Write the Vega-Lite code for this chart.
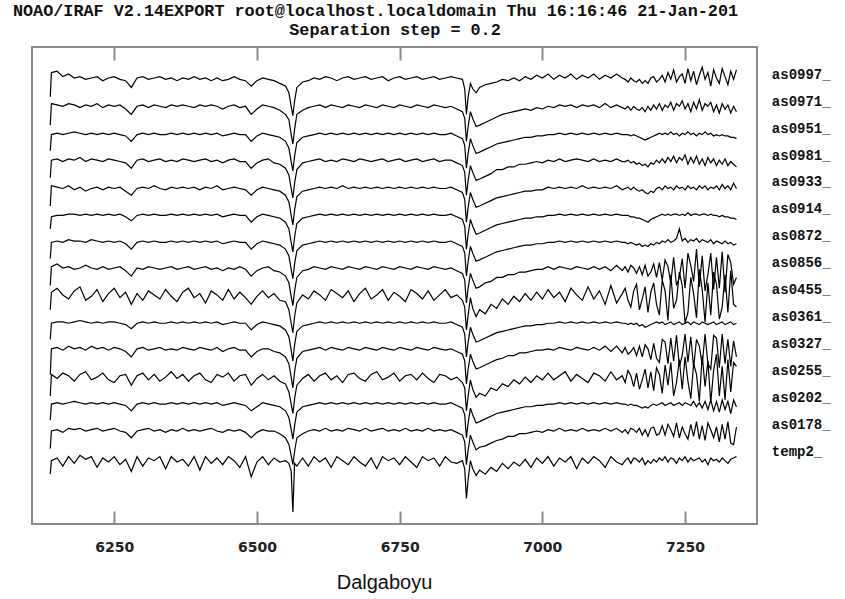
{
"$schema": "https://vega.github.io/schema/vega-lite/v6.json",
"width": 725, "height": 477,
"autosize": {"type": "none"},
"padding": {"left": 32, "top": 47, "right": 88, "bottom": 75},
"background": "white",
"config": {"view": {"stroke": "#8a8a8a", "strokeWidth": 2}, "axis": {"grid": false}},
"title": {"text": "NOAO/IRAF V2.14EXPORT root@localhost.localdomain Thu 16:16:46 21-Jan-201", "dx": -19, "font": "Liberation Mono", "fontSize": 16.8, "fontWeight": "bold", "color": "#111", "offset": 1.5, "anchor": "middle"},
"datasets": {
"spec": [
{"w":6138,"a":0.88,"b":1.07,"c":1.28,"d":1.46,"e":1.62,"f":1.88,"g":2.10,"h":2.28,"i":2.48,"j":2.70,"k":2.87,"l":3.08,"m":3.28,"n":3.47,"o":3.68},
{"w":6140,"a":0.98,"b":1.20,"c":1.40,"d":1.62,"e":1.81,"f":2.00,"g":2.23,"h":2.42,"i":2.60,"j":2.79,"k":3.02,"l":3.21,"m":3.40,"n":3.63,"o":3.86},
{"w":6150,"a":1.00,"b":1.21,"c":1.41,"d":1.59,"e":1.82,"f":2.01,"g":2.26,"h":2.44,"i":2.61,"j":2.80,"k":3.01,"l":3.22,"m":3.41,"n":3.62,"o":3.87},
{"w":6160,"a":0.94,"b":1.19,"c":1.40,"d":1.63,"e":1.80,"f":2.01,"g":2.21,"h":2.41,"i":2.60,"j":2.80,"k":3.00,"l":3.20,"m":3.40,"n":3.61,"o":3.83},
{"w":6170,"a":1.01,"b":1.22,"c":1.41,"d":1.61,"e":1.83,"f":2.00,"g":2.18,"h":2.42,"i":2.62,"j":2.81,"k":3.02,"l":3.22,"m":3.41,"n":3.63,"o":3.85},
{"w":6180,"a":0.96,"b":1.21,"c":1.42,"d":1.57,"e":1.81,"f":2.01,"g":2.24,"h":2.40,"i":2.61,"j":2.81,"k":2.99,"l":3.21,"m":3.42,"n":3.62,"o":3.82},
{"w":6190,"a":1.02,"b":1.22,"c":1.41,"d":1.62,"e":1.82,"f":2.02,"g":2.27,"h":2.41,"i":2.61,"j":2.80,"k":3.01,"l":3.23,"m":3.41,"n":3.60,"o":3.83},
{"w":6200,"a":0.99,"b":1.20,"c":1.40,"d":1.64,"e":1.80,"f":2.01,"g":2.17,"h":2.43,"i":2.60,"j":2.81,"k":2.98,"l":3.20,"m":3.40,"n":3.62,"o":3.81},
{"w":6210,"a":1.01,"b":1.21,"c":1.41,"d":1.58,"e":1.83,"f":2.00,"g":2.20,"h":2.41,"i":2.62,"j":2.80,"k":3.00,"l":3.22,"m":3.41,"n":3.61,"o":3.82},
{"w":6220,"a":0.93,"b":1.22,"c":1.40,"d":1.60,"e":1.81,"f":2.01,"g":2.25,"h":2.40,"i":2.61,"j":2.81,"k":3.01,"l":3.21,"m":3.40,"n":3.63,"o":3.83},
{"w":6230,"a":1.00,"b":1.20,"c":1.41,"d":1.63,"e":1.82,"f":2.00,"g":2.16,"h":2.42,"i":2.60,"j":2.80,"k":2.99,"l":3.20,"m":3.41,"n":3.60,"o":3.80},
{"w":6240,"a":0.97,"b":1.21,"c":1.40,"d":1.58,"e":1.80,"f":2.01,"g":2.22,"h":2.40,"i":2.61,"j":2.81,"k":3.01,"l":3.22,"m":3.40,"n":3.62,"o":3.82},
{"w":6250,"a":1.01,"b":1.22,"c":1.41,"d":1.56,"e":1.82,"f":2.01,"g":2.26,"h":2.41,"i":2.60,"j":2.80,"k":3.00,"l":3.21,"m":3.41,"n":3.61,"o":3.83},
{"w":6260,"a":0.95,"b":1.20,"c":1.40,"d":1.61,"e":1.81,"f":2.00,"g":2.19,"h":2.42,"i":2.61,"j":2.81,"k":3.01,"l":3.20,"m":3.40,"n":3.62,"o":3.81},
{"w":6270,"a":0.99,"b":1.19,"c":1.39,"d":1.62,"e":1.79,"f":1.99,"g":2.23,"h":2.39,"i":2.59,"j":2.79,"k":2.98,"l":3.19,"m":3.39,"n":3.59,"o":3.80},
{"w":6280,"a":0.90,"b":1.15,"c":1.35,"d":1.54,"e":1.75,"f":1.96,"g":2.14,"h":2.35,"i":2.55,"j":2.76,"k":2.95,"l":3.15,"m":3.35,"n":3.55,"o":3.75},
{"w":6290,"a":1.01,"b":1.20,"c":1.40,"d":1.61,"e":1.81,"f":2.00,"g":2.22,"h":2.41,"i":2.60,"j":2.80,"k":3.00,"l":3.21,"m":3.40,"n":3.61,"o":3.82},
{"w":6300,"a":0.94,"b":1.21,"c":1.41,"d":1.63,"e":1.82,"f":2.01,"g":2.17,"h":2.40,"i":2.61,"j":2.81,"k":3.01,"l":3.22,"m":3.41,"n":3.62,"o":3.83},
{"w":6310,"a":1.00,"b":1.22,"c":1.40,"d":1.58,"e":1.80,"f":2.00,"g":2.24,"h":2.42,"i":2.60,"j":2.80,"k":3.00,"l":3.20,"m":3.40,"n":3.60,"o":3.81},
{"w":6320,"a":0.98,"b":1.20,"c":1.41,"d":1.62,"e":1.81,"f":2.01,"g":2.21,"h":2.41,"i":2.61,"j":2.81,"k":3.02,"l":3.21,"m":3.41,"n":3.62,"o":3.82},
{"w":6330,"a":1.01,"b":1.21,"c":1.40,"d":1.57,"e":1.82,"f":2.00,"g":2.18,"h":2.40,"i":2.60,"j":2.80,"k":3.00,"l":3.22,"m":3.40,"n":3.61,"o":3.83},
{"w":6340,"a":0.92,"b":1.19,"c":1.40,"d":1.60,"e":1.80,"f":2.00,"g":2.25,"h":2.41,"i":2.60,"j":2.80,"k":2.99,"l":3.20,"m":3.40,"n":3.60,"o":3.81},
{"w":6350,"a":1.01,"b":1.21,"c":1.41,"d":1.64,"e":1.81,"f":2.01,"g":2.20,"h":2.42,"i":2.61,"j":2.81,"k":3.01,"l":3.21,"m":3.41,"n":3.62,"o":3.82},
{"w":6360,"a":0.97,"b":1.20,"c":1.40,"d":1.59,"e":1.80,"f":2.00,"g":2.16,"h":2.40,"i":2.60,"j":2.80,"k":3.00,"l":3.20,"m":3.40,"n":3.61,"o":3.80},
{"w":6370,"a":0.99,"b":1.22,"c":1.41,"d":1.62,"e":1.82,"f":2.01,"g":2.23,"h":2.41,"i":2.61,"j":2.81,"k":3.01,"l":3.22,"m":3.41,"n":3.62,"o":3.82},
{"w":6380,"a":0.94,"b":1.20,"c":1.40,"d":1.57,"e":1.81,"f":2.00,"g":2.26,"h":2.42,"i":2.60,"j":2.80,"k":3.00,"l":3.21,"m":3.40,"n":3.61,"o":3.81},
{"w":6390,"a":1.01,"b":1.21,"c":1.41,"d":1.61,"e":1.80,"f":2.01,"g":2.19,"h":2.40,"i":2.61,"j":2.81,"k":3.01,"l":3.20,"m":3.41,"n":3.60,"o":3.83},
{"w":6400,"a":0.91,"b":1.20,"c":1.40,"d":1.63,"e":1.82,"f":2.00,"g":2.22,"h":2.41,"i":2.60,"j":2.80,"k":2.99,"l":3.21,"m":3.40,"n":3.62,"o":3.81},
{"w":6410,"a":1.01,"b":1.21,"c":1.41,"d":1.58,"e":1.81,"f":2.01,"g":2.15,"h":2.42,"i":2.61,"j":2.81,"k":3.01,"l":3.22,"m":3.41,"n":3.61,"o":3.82},
{"w":6420,"a":0.96,"b":1.22,"c":1.40,"d":1.56,"e":1.80,"f":2.00,"g":2.24,"h":2.40,"i":2.60,"j":2.80,"k":3.00,"l":3.20,"m":3.40,"n":3.62,"o":3.80},
{"w":6430,"a":1.00,"b":1.20,"c":1.41,"d":1.62,"e":1.82,"f":2.01,"g":2.21,"h":2.41,"i":2.61,"j":2.81,"k":3.02,"l":3.21,"m":3.41,"n":3.61,"o":3.82},
{"w":6440,"a":0.95,"b":1.19,"c":1.39,"d":1.60,"e":1.79,"f":1.99,"g":2.17,"h":2.39,"i":2.59,"j":2.79,"k":2.99,"l":3.19,"m":3.39,"n":3.59,"o":3.80},
{"w":6450,"a":1.01,"b":1.21,"c":1.40,"d":1.63,"e":1.81,"f":2.00,"g":2.25,"h":2.41,"i":2.60,"j":2.80,"k":3.00,"l":3.21,"m":3.40,"n":3.61,"o":3.81},
{"w":6460,"a":0.98,"b":1.20,"c":1.41,"d":1.57,"e":1.82,"f":2.01,"g":2.18,"h":2.40,"i":2.61,"j":2.81,"k":3.01,"l":3.22,"m":3.41,"n":3.62,"o":3.83},
{"w":6470,"a":0.93,"b":1.21,"c":1.40,"d":1.61,"e":1.80,"f":2.00,"g":2.23,"h":2.42,"i":2.60,"j":2.80,"k":3.00,"l":3.20,"m":3.40,"n":3.60,"o":3.81},
{"w":6480,"a":1.01,"b":1.19,"c":1.39,"d":1.62,"e":1.80,"f":2.00,"g":2.19,"h":2.40,"i":2.60,"j":2.80,"k":2.99,"l":3.20,"m":3.40,"n":3.61,"o":3.80},
{"w":6490,"a":0.86,"b":1.15,"c":1.35,"d":1.54,"e":1.75,"f":1.95,"g":2.14,"h":2.35,"i":2.55,"j":2.75,"k":2.95,"l":3.15,"m":3.35,"n":3.55,"o":3.76},
{"w":6500,"a":0.97,"b":1.19,"c":1.38,"d":1.59,"e":1.79,"f":1.99,"g":2.20,"h":2.39,"i":2.59,"j":2.79,"k":2.99,"l":3.19,"m":3.39,"n":3.59,"o":3.80},
{"w":6510,"a":1.01,"b":1.21,"c":1.41,"d":1.62,"e":1.81,"f":2.01,"g":2.24,"h":2.41,"i":2.61,"j":2.81,"k":3.01,"l":3.21,"m":3.41,"n":3.62,"o":3.82},
{"w":6520,"a":0.95,"b":1.20,"c":1.40,"d":1.58,"e":1.81,"f":2.00,"g":2.19,"h":2.42,"i":2.60,"j":2.80,"k":3.00,"l":3.22,"m":3.40,"n":3.61,"o":3.81},
{"w":6530,"a":1.00,"b":1.20,"c":1.39,"d":1.61,"e":1.79,"f":1.99,"g":2.22,"h":2.39,"i":2.59,"j":2.79,"k":2.99,"l":3.19,"m":3.39,"n":3.60,"o":3.80},
{"w":6540,"a":0.97,"b":1.18,"c":1.38,"d":1.57,"e":1.78,"f":1.98,"g":2.17,"h":2.38,"i":2.58,"j":2.78,"k":2.98,"l":3.18,"m":3.38,"n":3.58,"o":3.78},
{"w":6550,"a":0.98,"b":1.15,"c":1.35,"d":1.55,"e":1.75,"f":1.95,"g":2.16,"h":2.35,"i":2.55,"j":2.75,"k":2.95,"l":3.15,"m":3.35,"n":3.55,"o":3.76},
{"w":6556,"a":0.96,"b":1.10,"c":1.30,"d":1.49,"e":1.70,"f":1.90,"g":2.10,"h":2.30,"i":2.50,"j":2.70,"k":2.90,"l":3.10,"m":3.30,"n":3.51,"o":3.71},
{"w":6560,"a":0.90,"b":1.02,"c":1.21,"d":1.40,"e":1.60,"f":1.80,"g":2.00,"h":2.20,"i":2.40,"j":2.60,"k":2.80,"l":3.00,"m":3.20,"n":3.40,"o":3.61},
{"w":6563,"a":0.60,"b":0.95,"c":1.14,"d":1.33,"e":1.52,"f":1.72,"g":1.93,"h":2.13,"i":2.33,"j":2.53,"k":2.73,"l":2.93,"m":3.13,"n":3.33,"o":3.54},
{"w":6566,"a":0.96,"b":1.05,"c":1.24,"d":1.44,"e":1.64,"f":1.84,"g":2.05,"h":2.24,"i":2.44,"j":2.64,"k":2.84,"l":3.04,"m":3.24,"n":3.44,"o":3.65},
{"w":6570,"a":0.94,"b":1.15,"c":1.34,"d":1.54,"e":1.74,"f":1.94,"g":2.15,"h":2.34,"i":2.54,"j":2.74,"k":2.94,"l":3.14,"m":3.34,"n":3.55,"o":3.75},
{"w":6580,"a":1.00,"b":1.18,"c":1.38,"d":1.59,"e":1.79,"f":1.98,"g":2.21,"h":2.39,"i":2.58,"j":2.78,"k":2.98,"l":3.19,"m":3.38,"n":3.58,"o":3.79},
{"w":6590,"a":0.94,"b":1.20,"c":1.39,"d":1.62,"e":1.80,"f":1.99,"g":2.18,"h":2.40,"i":2.59,"j":2.79,"k":2.99,"l":3.20,"m":3.39,"n":3.60,"o":3.80},
{"w":6600,"a":1.01,"b":1.21,"c":1.40,"d":1.57,"e":1.81,"f":2.00,"g":2.24,"h":2.42,"i":2.60,"j":2.80,"k":3.00,"l":3.21,"m":3.40,"n":3.61,"o":3.82},
{"w":6610,"a":0.97,"b":1.20,"c":1.41,"d":1.61,"e":1.82,"f":2.01,"g":2.21,"h":2.41,"i":2.61,"j":2.81,"k":3.01,"l":3.22,"m":3.41,"n":3.62,"o":3.81},
{"w":6620,"a":1.00,"b":1.22,"c":1.40,"d":1.63,"e":1.80,"f":2.00,"g":2.17,"h":2.40,"i":2.60,"j":2.80,"k":3.00,"l":3.20,"m":3.40,"n":3.60,"o":3.83},
{"w":6630,"a":0.93,"b":1.20,"c":1.41,"d":1.58,"e":1.82,"f":2.01,"g":2.25,"h":2.42,"i":2.61,"j":2.81,"k":3.01,"l":3.21,"m":3.41,"n":3.62,"o":3.82},
{"w":6640,"a":1.01,"b":1.21,"c":1.40,"d":1.61,"e":1.81,"f":2.00,"g":2.22,"h":2.41,"i":2.60,"j":2.80,"k":3.00,"l":3.20,"m":3.40,"n":3.61,"o":3.80},
{"w":6650,"a":0.98,"b":1.20,"c":1.41,"d":1.56,"e":1.80,"f":2.01,"g":2.19,"h":2.40,"i":2.61,"j":2.81,"k":3.02,"l":3.22,"m":3.41,"n":3.60,"o":3.82},
{"w":6660,"a":0.95,"b":1.22,"c":1.40,"d":1.62,"e":1.82,"f":2.00,"g":2.24,"h":2.42,"i":2.60,"j":2.80,"k":3.00,"l":3.21,"m":3.40,"n":3.62,"o":3.83},
{"w":6670,"a":1.01,"b":1.21,"c":1.41,"d":1.63,"e":1.81,"f":2.01,"g":2.16,"h":2.41,"i":2.61,"j":2.81,"k":3.01,"l":3.20,"m":3.41,"n":3.61,"o":3.81},
{"w":6680,"a":0.97,"b":1.20,"c":1.40,"d":1.59,"e":1.80,"f":2.00,"g":2.22,"h":2.40,"i":2.60,"j":2.80,"k":3.00,"l":3.22,"m":3.40,"n":3.60,"o":3.82},
{"w":6690,"a":0.94,"b":1.22,"c":1.41,"d":1.57,"e":1.82,"f":2.01,"g":2.26,"h":2.42,"i":2.61,"j":2.81,"k":3.01,"l":3.21,"m":3.41,"n":3.62,"o":3.83},
{"w":6700,"a":1.00,"b":1.20,"c":1.40,"d":1.62,"e":1.81,"f":2.00,"g":2.18,"h":2.41,"i":2.60,"j":2.80,"k":3.00,"l":3.20,"m":3.40,"n":3.61,"o":3.81},
{"w":6710,"a":0.92,"b":1.21,"c":1.41,"d":1.64,"e":1.80,"f":2.01,"g":2.21,"h":2.40,"i":2.61,"j":2.81,"k":3.01,"l":3.21,"m":3.41,"n":3.60,"o":3.82},
{"w":6720,"a":1.01,"b":1.22,"c":1.40,"d":1.58,"e":1.82,"f":2.00,"g":2.25,"h":2.42,"i":2.60,"j":2.80,"k":3.00,"l":3.22,"m":3.40,"n":3.62,"o":3.83},
{"w":6730,"a":0.98,"b":1.20,"c":1.41,"d":1.60,"e":1.81,"f":2.01,"g":2.17,"h":2.41,"i":2.61,"j":2.81,"k":3.01,"l":3.20,"m":3.41,"n":3.61,"o":3.80},
{"w":6740,"a":1.00,"b":1.21,"c":1.40,"d":1.63,"e":1.80,"f":2.00,"g":2.23,"h":2.40,"i":2.60,"j":2.80,"k":3.00,"l":3.21,"m":3.40,"n":3.60,"o":3.82},
{"w":6750,"a":0.95,"b":1.20,"c":1.41,"d":1.57,"e":1.82,"f":2.01,"g":2.20,"h":2.42,"i":2.61,"j":2.81,"k":3.01,"l":3.22,"m":3.41,"n":3.62,"o":3.83},
{"w":6760,"a":1.01,"b":1.22,"c":1.40,"d":1.61,"e":1.81,"f":2.00,"g":2.16,"h":2.41,"i":2.60,"j":2.80,"k":3.00,"l":3.20,"m":3.40,"n":3.61,"o":3.81},
{"w":6770,"a":0.97,"b":1.20,"c":1.41,"d":1.62,"e":1.80,"f":2.01,"g":2.25,"h":2.40,"i":2.61,"j":2.81,"k":3.01,"l":3.21,"m":3.41,"n":3.60,"o":3.82},
{"w":6780,"a":0.93,"b":1.21,"c":1.40,"d":1.58,"e":1.82,"f":2.00,"g":2.22,"h":2.42,"i":2.60,"j":2.80,"k":3.00,"l":3.22,"m":3.40,"n":3.62,"o":3.83},
{"w":6790,"a":1.01,"b":1.20,"c":1.41,"d":1.63,"e":1.81,"f":2.01,"g":2.18,"h":2.41,"i":2.61,"j":2.81,"k":3.01,"l":3.20,"m":3.41,"n":3.61,"o":3.81},
{"w":6800,"a":0.98,"b":1.22,"c":1.40,"d":1.59,"e":1.80,"f":2.00,"g":2.24,"h":2.40,"i":2.60,"j":2.80,"k":3.00,"l":3.21,"m":3.40,"n":3.60,"o":3.82},
{"w":6810,"a":1.00,"b":1.20,"c":1.41,"d":1.56,"e":1.82,"f":2.01,"g":2.17,"h":2.42,"i":2.61,"j":2.81,"k":3.01,"l":3.22,"m":3.41,"n":3.62,"o":3.83},
{"w":6820,"a":0.94,"b":1.21,"c":1.40,"d":1.62,"e":1.81,"f":2.00,"g":2.21,"h":2.41,"i":2.60,"j":2.80,"k":3.00,"l":3.20,"m":3.40,"n":3.61,"o":3.81},
{"w":6830,"a":1.01,"b":1.20,"c":1.40,"d":1.61,"e":1.80,"f":2.00,"g":2.25,"h":2.40,"i":2.60,"j":2.80,"k":3.00,"l":3.21,"m":3.40,"n":3.60,"o":3.82},
{"w":6840,"a":0.97,"b":1.21,"c":1.41,"d":1.58,"e":1.81,"f":2.01,"g":2.19,"h":2.41,"i":2.61,"j":2.81,"k":3.01,"l":3.21,"m":3.41,"n":3.61,"o":3.83},
{"w":6850,"a":0.96,"b":1.19,"c":1.39,"d":1.60,"e":1.79,"f":1.99,"g":2.21,"h":2.39,"i":2.59,"j":2.79,"k":2.99,"l":3.19,"m":3.39,"n":3.59,"o":3.82},
{"w":6860,"a":0.98,"b":1.17,"c":1.37,"d":1.56,"e":1.77,"f":1.97,"g":2.17,"h":2.37,"i":2.57,"j":2.77,"k":2.97,"l":3.17,"m":3.37,"n":3.57,"o":3.81},
{"w":6864,"a":0.92,"b":1.12,"c":1.32,"d":1.52,"e":1.72,"f":1.92,"g":2.12,"h":2.32,"i":2.52,"j":2.72,"k":2.92,"l":3.12,"m":3.32,"n":3.52,"o":3.74},
{"w":6867,"a":0.70,"b":0.95,"c":1.15,"d":1.35,"e":1.55,"f":1.75,"g":1.95,"h":2.15,"i":2.35,"j":2.55,"k":2.75,"l":2.95,"m":3.15,"n":3.35,"o":3.55},
{"w":6870,"a":0.84,"b":1.06,"c":1.26,"d":1.46,"e":1.66,"f":1.86,"g":2.06,"h":2.26,"i":2.46,"j":2.66,"k":2.86,"l":3.06,"m":3.26,"n":3.46,"o":3.68},
{"w":6874,"a":0.98,"b":1.17,"c":1.37,"d":1.58,"e":1.77,"f":1.97,"g":2.19,"h":2.37,"i":2.57,"j":2.77,"k":2.97,"l":3.17,"m":3.37,"n":3.57,"o":3.78},
{"w":6878,"a":0.92,"b":1.12,"c":1.32,"d":1.51,"e":1.72,"f":1.92,"g":2.11,"h":2.32,"i":2.52,"j":2.72,"k":2.92,"l":3.12,"m":3.32,"n":3.52,"o":3.74},
{"w":6884,"a":0.87,"b":1.06,"c":1.26,"d":1.45,"e":1.66,"f":1.86,"g":2.05,"h":2.26,"i":2.46,"j":2.66,"k":2.86,"l":3.06,"m":3.26,"n":3.46,"o":3.71},
{"w":6890,"a":0.91,"b":1.08,"c":1.27,"d":1.48,"e":1.67,"f":1.87,"g":2.10,"h":2.27,"i":2.47,"j":2.67,"k":2.87,"l":3.07,"m":3.27,"n":3.47,"o":3.75},
{"w":6900,"a":0.88,"b":1.09,"c":1.29,"d":1.46,"e":1.69,"f":1.89,"g":2.07,"h":2.30,"i":2.49,"j":2.69,"k":2.89,"l":3.09,"m":3.29,"n":3.49,"o":3.77},
{"w":6910,"a":0.93,"b":1.11,"c":1.31,"d":1.52,"e":1.71,"f":1.91,"g":2.14,"h":2.31,"i":2.51,"j":2.71,"k":2.91,"l":3.11,"m":3.31,"n":3.51,"o":3.78},
{"w":6920,"a":0.90,"b":1.13,"c":1.33,"d":1.50,"e":1.73,"f":1.93,"g":2.11,"h":2.34,"i":2.53,"j":2.73,"k":2.93,"l":3.14,"m":3.33,"n":3.53,"o":3.79},
{"w":6930,"a":0.96,"b":1.14,"c":1.34,"d":1.55,"e":1.74,"f":1.94,"g":2.18,"h":2.34,"i":2.54,"j":2.74,"k":2.94,"l":3.14,"m":3.34,"n":3.55,"o":3.81},
{"w":6940,"a":0.92,"b":1.16,"c":1.35,"d":1.53,"e":1.76,"f":1.95,"g":2.14,"h":2.36,"i":2.55,"j":2.75,"k":2.95,"l":3.16,"m":3.35,"n":3.56,"o":3.80},
{"w":6950,"a":0.97,"b":1.16,"c":1.36,"d":1.58,"e":1.76,"f":1.96,"g":2.20,"h":2.36,"i":2.56,"j":2.76,"k":2.96,"l":3.16,"m":3.36,"n":3.57,"o":3.82},
{"w":6960,"a":0.94,"b":1.18,"c":1.37,"d":1.55,"e":1.78,"f":1.97,"g":2.16,"h":2.38,"i":2.57,"j":2.77,"k":2.97,"l":3.18,"m":3.37,"n":3.58,"o":3.80},
{"w":6970,"a":0.99,"b":1.18,"c":1.38,"d":1.60,"e":1.78,"f":1.98,"g":2.22,"h":2.38,"i":2.58,"j":2.78,"k":2.98,"l":3.18,"m":3.38,"n":3.59,"o":3.83},
{"w":6980,"a":0.93,"b":1.19,"c":1.38,"d":1.56,"e":1.79,"f":1.98,"g":2.17,"h":2.39,"i":2.58,"j":2.78,"k":2.98,"l":3.19,"m":3.38,"n":3.58,"o":3.81},
{"w":6990,"a":1.00,"b":1.20,"c":1.39,"d":1.61,"e":1.80,"f":1.99,"g":2.23,"h":2.40,"i":2.59,"j":2.79,"k":2.99,"l":3.20,"m":3.39,"n":3.60,"o":3.84},
{"w":7000,"a":0.96,"b":1.19,"c":1.39,"d":1.58,"e":1.80,"f":1.99,"g":2.18,"h":2.40,"i":2.59,"j":2.79,"k":2.99,"l":3.19,"m":3.39,"n":3.59,"o":3.82},
{"w":7010,"a":1.01,"b":1.21,"c":1.40,"d":1.63,"e":1.81,"f":2.00,"g":2.25,"h":2.42,"i":2.60,"j":2.80,"k":3.01,"l":3.21,"m":3.40,"n":3.61,"o":3.85},
{"w":7020,"a":0.94,"b":1.20,"c":1.40,"d":1.58,"e":1.80,"f":2.00,"g":2.19,"h":2.40,"i":2.60,"j":2.80,"k":3.00,"l":3.20,"m":3.40,"n":3.60,"o":3.81},
{"w":7030,"a":1.00,"b":1.22,"c":1.41,"d":1.61,"e":1.82,"f":2.01,"g":2.23,"h":2.42,"i":2.61,"j":2.81,"k":3.01,"l":3.22,"m":3.41,"n":3.62,"o":3.84},
{"w":7040,"a":0.97,"b":1.20,"c":1.40,"d":1.64,"e":1.81,"f":2.00,"g":2.16,"h":2.41,"i":2.60,"j":2.80,"k":3.00,"l":3.20,"m":3.40,"n":3.61,"o":3.82},
{"w":7050,"a":1.01,"b":1.21,"c":1.41,"d":1.57,"e":1.80,"f":2.01,"g":2.26,"h":2.40,"i":2.61,"j":2.81,"k":3.01,"l":3.21,"m":3.41,"n":3.62,"o":3.85},
{"w":7060,"a":0.92,"b":1.20,"c":1.40,"d":1.62,"e":1.82,"f":2.00,"g":2.21,"h":2.42,"i":2.60,"j":2.80,"k":3.00,"l":3.22,"m":3.40,"n":3.60,"o":3.81},
{"w":7070,"a":1.00,"b":1.22,"c":1.41,"d":1.59,"e":1.81,"f":2.01,"g":2.17,"h":2.41,"i":2.61,"j":2.81,"k":3.02,"l":3.21,"m":3.41,"n":3.62,"o":3.84},
{"w":7080,"a":0.96,"b":1.20,"c":1.40,"d":1.56,"e":1.80,"f":2.00,"g":2.27,"h":2.40,"i":2.60,"j":2.80,"k":3.00,"l":3.20,"m":3.40,"n":3.61,"o":3.82},
{"w":7090,"a":1.01,"b":1.21,"c":1.41,"d":1.63,"e":1.82,"f":2.01,"g":2.18,"h":2.42,"i":2.61,"j":2.81,"k":3.01,"l":3.22,"m":3.41,"n":3.62,"o":3.85},
{"w":7100,"a":0.98,"b":1.20,"c":1.40,"d":1.61,"e":1.80,"f":2.00,"g":2.24,"h":2.40,"i":2.60,"j":2.80,"k":3.00,"l":3.20,"m":3.40,"n":3.60,"o":3.81},
{"w":7110,"a":0.93,"b":1.22,"c":1.41,"d":1.57,"e":1.83,"f":2.01,"g":2.14,"h":2.42,"i":2.61,"j":2.81,"k":3.01,"l":3.21,"m":3.41,"n":3.63,"o":3.84},
{"w":7120,"a":1.01,"b":1.20,"c":1.40,"d":1.64,"e":1.79,"f":2.00,"g":2.28,"h":2.39,"i":2.60,"j":2.80,"k":3.00,"l":3.20,"m":3.40,"n":3.60,"o":3.82},
{"w":7130,"a":0.97,"b":1.22,"c":1.41,"d":1.58,"e":1.83,"f":2.01,"g":2.15,"h":2.43,"i":2.61,"j":2.81,"k":3.02,"l":3.22,"m":3.41,"n":3.62,"o":3.85},
{"w":7140,"a":0.95,"b":1.19,"c":1.40,"d":1.61,"e":1.78,"f":2.00,"g":2.22,"h":2.39,"i":2.60,"j":2.80,"k":2.99,"l":3.20,"m":3.40,"n":3.60,"o":3.82},
{"w":7145,"a":0.98,"b":1.21,"c":1.40,"d":1.56,"e":1.82,"f":2.00,"g":2.26,"h":2.42,"i":2.60,"j":2.80,"k":3.00,"l":3.20,"m":3.40,"n":3.59,"o":3.81},
{"w":7150,"a":1.00,"b":1.18,"c":1.39,"d":1.65,"e":1.77,"f":1.99,"g":2.17,"h":2.38,"i":2.59,"j":2.80,"k":3.01,"l":3.21,"m":3.40,"n":3.61,"o":3.79},
{"w":7155,"a":0.96,"b":1.22,"c":1.40,"d":1.61,"e":1.79,"f":2.00,"g":2.12,"h":2.43,"i":2.60,"j":2.79,"k":2.99,"l":3.19,"m":3.39,"n":3.58,"o":3.82},
{"w":7160,"a":1.00,"b":1.21,"c":1.39,"d":1.53,"e":1.82,"f":1.99,"g":2.24,"h":2.41,"i":2.59,"j":2.79,"k":3.01,"l":3.20,"m":3.40,"n":3.61,"o":3.80},
{"w":7165,"a":0.99,"b":1.19,"c":1.39,"d":1.63,"e":1.76,"f":2.00,"g":2.29,"h":2.37,"i":2.58,"j":2.78,"k":2.99,"l":3.18,"m":3.39,"n":3.59,"o":3.79},
{"w":7170,"a":0.97,"b":1.22,"c":1.38,"d":1.51,"e":1.83,"f":1.98,"g":2.10,"h":2.42,"i":2.59,"j":2.78,"k":2.98,"l":3.19,"m":3.38,"n":3.58,"o":3.81},
{"w":7175,"a":1.00,"b":1.17,"c":1.37,"d":1.58,"e":1.75,"f":1.99,"g":2.18,"h":2.36,"i":2.57,"j":2.77,"k":2.99,"l":3.17,"m":3.37,"n":3.60,"o":3.78},
{"w":7180,"a":0.95,"b":1.21,"c":1.38,"d":1.66,"e":1.84,"f":1.97,"g":2.27,"h":2.43,"i":2.58,"j":2.76,"k":2.97,"l":3.18,"m":3.36,"n":3.57,"o":3.80},
{"w":7185,"a":0.98,"b":1.16,"c":1.37,"d":1.52,"e":1.81,"f":1.98,"g":2.08,"h":2.35,"i":2.57,"j":2.75,"k":2.96,"l":3.16,"m":3.37,"n":3.61,"o":3.78},
{"w":7190,"a":0.96,"b":1.22,"c":1.39,"d":1.64,"e":1.73,"f":1.99,"g":2.23,"h":2.38,"i":2.59,"j":2.77,"k":2.98,"l":3.19,"m":3.38,"n":3.58,"o":3.82},
{"w":7195,"a":0.99,"b":1.23,"c":1.40,"d":1.50,"e":1.85,"f":2.00,"g":2.30,"h":2.44,"i":2.58,"j":2.78,"k":2.97,"l":3.18,"m":3.39,"n":3.62,"o":3.83},
{"w":7200,"a":0.97,"b":1.17,"c":1.39,"d":1.67,"e":1.74,"f":2.01,"g":2.14,"h":2.34,"i":2.60,"j":2.79,"k":3.00,"l":3.21,"m":3.40,"n":3.59,"o":3.79},
{"w":7205,"a":1.00,"b":1.18,"c":1.40,"d":1.62,"e":1.71,"f":2.00,"g":2.06,"h":2.45,"i":2.59,"j":2.80,"k":3.01,"l":3.19,"m":3.41,"n":3.63,"o":3.81},
{"w":7210,"a":0.98,"b":1.24,"c":1.41,"d":1.48,"e":1.88,"f":2.01,"g":2.32,"h":2.32,"i":2.61,"j":2.81,"k":2.99,"l":3.22,"m":3.40,"n":3.58,"o":3.84},
{"w":7215,"a":1.01,"b":1.17,"c":1.39,"d":1.69,"e":1.86,"f":1.99,"g":2.24,"h":2.47,"i":2.60,"j":2.80,"k":3.02,"l":3.19,"m":3.41,"n":3.62,"o":3.79},
{"w":7220,"a":0.97,"b":1.25,"c":1.40,"d":1.54,"e":1.70,"f":2.00,"g":2.02,"h":2.42,"i":2.62,"j":2.81,"k":3.00,"l":3.23,"m":3.40,"n":3.60,"o":3.86},
{"w":7225,"a":1.00,"b":1.21,"c":1.41,"d":1.71,"e":1.89,"f":2.01,"g":2.36,"h":2.30,"i":2.60,"j":2.80,"k":3.01,"l":3.20,"m":3.42,"n":3.64,"o":3.81},
{"w":7230,"a":0.99,"b":1.16,"c":1.39,"d":1.46,"e":1.72,"f":1.99,"g":2.11,"h":2.49,"i":2.61,"j":2.81,"k":2.99,"l":3.24,"m":3.40,"n":3.58,"o":3.88},
{"w":7235,"a":0.96,"b":1.26,"c":1.40,"d":1.56,"e":1.91,"f":2.00,"g":2.17,"h":2.28,"i":2.63,"j":2.81,"k":3.02,"l":3.19,"m":3.41,"n":3.63,"o":3.79},
{"w":7240,"a":1.00,"b":1.15,"c":1.41,"d":1.73,"e":1.68,"f":2.01,"g":2.38,"h":2.34,"i":2.70,"j":2.80,"k":3.00,"l":3.23,"m":3.39,"n":3.61,"o":3.83},
{"w":7245,"a":0.98,"b":1.23,"c":1.39,"d":1.51,"e":1.76,"f":1.99,"g":2.28,"h":2.48,"i":2.61,"j":2.81,"k":3.01,"l":3.21,"m":3.41,"n":3.65,"o":3.85},
{"w":7250,"a":1.01,"b":1.18,"c":1.41,"d":1.75,"e":1.92,"f":2.00,"g":2.00,"h":2.26,"i":2.63,"j":2.80,"k":2.99,"l":3.25,"m":3.40,"n":3.59,"o":3.78},
{"w":7255,"a":0.97,"b":1.14,"c":1.40,"d":1.57,"e":1.71,"f":2.01,"g":2.08,"h":2.52,"i":2.60,"j":2.82,"k":3.02,"l":3.18,"m":3.42,"n":3.63,"o":3.89},
{"w":7260,"a":1.00,"b":1.25,"c":1.39,"d":1.44,"e":1.90,"f":1.99,"g":2.34,"h":2.43,"i":2.62,"j":2.80,"k":3.00,"l":3.23,"m":3.40,"n":3.57,"o":3.80},
{"w":7265,"a":0.98,"b":1.16,"c":1.42,"d":1.70,"e":1.67,"f":2.01,"g":2.22,"h":2.31,"i":2.61,"j":2.81,"k":3.01,"l":3.19,"m":3.41,"n":3.64,"o":3.87},
{"w":7270,"a":0.99,"b":1.27,"c":1.38,"d":1.62,"e":1.88,"f":2.00,"g":2.04,"h":2.55,"i":2.63,"j":2.81,"k":2.99,"l":3.24,"m":3.39,"n":3.59,"o":3.77},
{"w":7275,"a":1.00,"b":1.14,"c":1.41,"d":1.42,"e":1.83,"f":1.99,"g":2.40,"h":2.27,"i":2.60,"j":2.80,"k":3.02,"l":3.18,"m":3.41,"n":3.66,"o":3.84},
{"w":7280,"a":0.97,"b":1.24,"c":1.37,"d":1.76,"e":1.69,"f":2.01,"g":2.25,"h":2.50,"i":2.62,"j":2.81,"k":3.00,"l":3.22,"m":3.40,"n":3.58,"o":3.90},
{"w":7285,"a":0.99,"b":1.13,"c":1.42,"d":1.53,"e":1.92,"f":2.00,"g":2.01,"h":2.24,"i":2.61,"j":2.81,"k":3.02,"l":3.17,"m":3.42,"n":3.63,"o":3.81},
{"w":7290,"a":0.95,"b":1.26,"c":1.36,"d":1.72,"e":1.70,"f":1.99,"g":2.30,"h":2.36,"i":2.60,"j":2.80,"k":2.99,"l":3.23,"m":3.40,"n":3.61,"o":3.86},
{"w":7295,"a":1.00,"b":1.21,"c":1.43,"d":1.41,"e":1.66,"f":2.00,"g":2.06,"h":2.52,"i":2.62,"j":2.81,"k":3.01,"l":3.19,"m":3.41,"n":3.64,"o":3.76},
{"w":7300,"a":0.98,"b":1.15,"c":1.35,"d":1.65,"e":1.91,"f":2.01,"g":2.38,"h":2.25,"i":2.59,"j":2.80,"k":3.00,"l":3.22,"m":3.39,"n":3.57,"o":3.88},
{"w":7305,"a":0.99,"b":1.23,"c":1.42,"d":1.77,"e":1.89,"f":1.99,"g":2.29,"h":2.49,"i":2.61,"j":2.80,"k":3.02,"l":3.17,"m":3.40,"n":3.62,"o":3.82},
{"w":7310,"a":0.97,"b":1.12,"c":1.34,"d":1.46,"e":1.67,"f":2.00,"g":2.03,"h":2.26,"i":2.60,"j":2.79,"k":2.99,"l":3.21,"m":3.39,"n":3.56,"o":3.78},
{"w":7315,"a":1.00,"b":1.25,"c":1.43,"d":1.68,"e":1.92,"f":2.01,"g":2.12,"h":2.53,"i":2.59,"j":2.80,"k":3.03,"l":3.18,"m":3.40,"n":3.63,"o":3.89},
{"w":7320,"a":0.98,"b":1.14,"c":1.36,"d":1.43,"e":1.70,"f":1.99,"g":2.36,"h":2.23,"i":2.61,"j":2.79,"k":3.00,"l":3.22,"m":3.39,"n":3.59,"o":3.83},
{"w":7325,"a":0.96,"b":1.27,"c":1.42,"d":1.73,"e":1.88,"f":2.00,"g":2.08,"h":2.51,"i":2.59,"j":2.79,"k":3.02,"l":3.17,"m":3.39,"n":3.62,"o":3.77},
{"w":7330,"a":0.99,"b":1.11,"c":1.33,"d":1.49,"e":1.68,"f":2.01,"g":2.39,"h":2.45,"i":2.60,"j":2.78,"k":2.99,"l":3.20,"m":3.38,"n":3.56,"o":3.87},
{"w":7335,"a":1.00,"b":1.10,"c":1.43,"d":1.71,"e":1.87,"f":1.99,"g":2.14,"h":2.29,"i":2.58,"j":2.78,"k":3.04,"l":3.18,"m":3.38,"n":3.61,"o":3.81},
{"w":7340,"a":1.01,"b":1.23,"c":1.38,"d":1.68,"e":1.75,"f":2.00,"g":2.12,"h":2.34,"i":2.59,"j":2.77,"k":3.00,"l":3.16,"m":3.37,"n":3.57,"o":3.88}
],
"labels": [
{"name":"temp2_","level":1.0},{"name":"as0178_","level":1.2},{"name":"as0202_","level":1.4},{"name":"as0255_","level":1.6},{"name":"as0327_","level":1.8},{"name":"as0361_","level":2.0},{"name":"as0455_","level":2.2},{"name":"as0856_","level":2.4},{"name":"as0872_","level":2.6},{"name":"as0914_","level":2.8},{"name":"as0933_","level":3.0},{"name":"as0981_","level":3.2},{"name":"as0951_","level":3.4},{"name":"as0971_","level":3.6},{"name":"as0997_","level":3.8}
]
},
"resolve": {"axis": {"x": "independent"}},
"layer": [
{"data": {"name": "spec"},
 "transform": [{"fold": ["a","b","c","d","e","f","g","h","i","j","k","l","m","n","o"], "as": ["s","flux"]}],
 "mark": {"type": "line", "color": "#000", "strokeWidth": 1.2, "clip": true},
 "encoding": {
  "x": {"field": "w", "type": "quantitative", "scale": {"domain": [6106, 7376], "nice": false, "zero": false},
        "axis": {"orient": "bottom", "values": [6250,6500,6750,7000,7250], "format": "d", "tickSize": -13, "tickColor": "#8a8a8a", "tickWidth": 2, "domain": false, "grid": false,
                 "labelFont": "DejaVu Sans", "labelFontSize": 14, "labelFontWeight": "bold", "labelColor": "#222", "labelPadding": 29,
                 "title": "Dalgaboyu", "titleFont": "Liberation Sans", "titleFontSize": 20, "titleFontWeight": "normal", "titleColor": "#111", "titleX": 352, "titleY": 58, "titleBaseline": "middle", "titleAnchor": "middle"}},
  "y": {"field": "flux", "type": "quantitative", "scale": {"domain": [0.51, 4.05], "nice": false, "zero": false}, "axis": null},
  "detail": {"field": "s"}
 }},
{"data": {"name": "labels"},
 "mark": {"type": "text", "align": "left", "baseline": "middle", "font": "Liberation Mono", "fontSize": 14, "fontWeight": "bold", "color": "#111", "dy": -6, "clip": false},
 "encoding": {
  "x": {"datum": 7402, "type": "quantitative", "axis": {"orient": "top", "values": [6250,6500,6750,7000,7250], "tickSize": -13, "tickColor": "#8a8a8a", "tickWidth": 2, "domain": false, "grid": false, "labels": false,
        "title": "Separation step = 0.2", "titleFont": "Liberation Mono", "titleFontSize": 16.8, "titleFontWeight": "bold", "titleColor": "#111", "titleX": 362.5, "titleY": -18, "titleBaseline": "middle", "titleAlign": "center", "titleAnchor": "middle"}},
  "y": {"field": "level", "type": "quantitative"},
  "text": {"field": "name"}
 }}
]
}
